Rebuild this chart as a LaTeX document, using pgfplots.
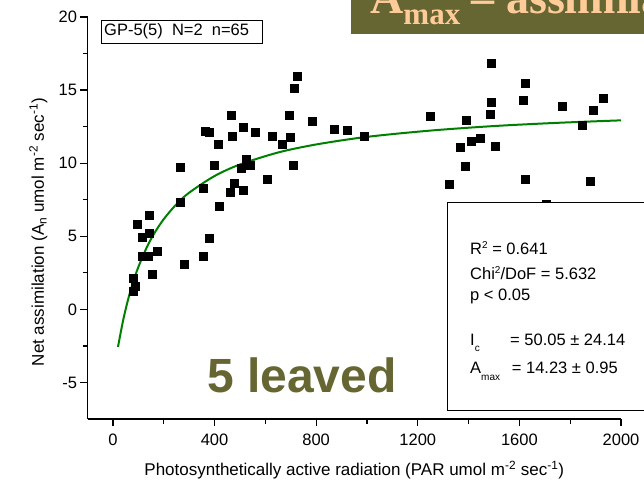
\documentclass[border=0pt]{standalone}
\usepackage{fontspec}
\setmainfont{Liberation Sans}
\newfontfamily\bannerfont{Liberation Serif}
\usepackage{pgfplots}
\pgfplotsset{compat=1.18}
\definecolor{olivebg}{RGB}{102,102,51}
\definecolor{peach}{RGB}{255,204,153}
\definecolor{fitgreen}{RGB}{0,128,0}

\begin{document}
\begin{tikzpicture}[x=1pt,y=1pt]
\begin{axis}[
  at={(87.5pt,65pt)}, anchor=south west,
  scale only axis, width=533.5pt, height=402pt,
  xmin=-100, xmax=2000, ymin=-7.5, ymax=20,
  axis lines=left,
  axis line style={-, line width=1.3pt},
  xtick={0,400,...,2000}, ytick={-5,0,...,20},
  minor x tick num=1, minor y tick num=1,
  tick align=outside,
  major tick length=7pt, minor tick length=4.5pt,
  every tick/.style={line width=1.2pt, black},
  tick label style={font=\fontsize{16.5}{19}\selectfont},
  xticklabel style={yshift=-4pt},
  /pgf/number format/assume math mode=true,
  /pgf/number format/1000 sep={},
  xlabel={Photosynthetically active radiation (PAR umol m\textsuperscript{-2} sec\textsuperscript{-1})},
  ylabel={Net assimilation (A\textsubscript{n} umol m\textsuperscript{-2} sec\textsuperscript{-1})},
  every axis x label/.style={at={(axis description cs:0.5,-0.1269)}, anchor=center, font=\fontsize{17}{19}\selectfont},
  every axis y label/.style={at={(axis description cs:-0.092,0.465)}, anchor=center, rotate=90, font=\fontsize{17}{19}\selectfont},
  clip=true,
]
\addplot[only marks, mark=square*, mark size=4pt, black] table {
x y
79.4 1.21
88.5 1.59
81.8 2.14
154.2 2.39
282.4 3.12
114.8 3.67
140.8 3.67
357.1 3.64
173.8 3.96
380.7 4.90
114.8 4.97
143.6 5.19
95.2 5.83
143.6 6.42
265.5 7.33
357.1 8.31
418.9 7.04
462.1 8.01
512.1 8.15
477.9 8.61
607.7 8.88
264.3 9.72
399.2 9.84
504.2 9.67
540.8 9.89
708.7 9.86
525.1 10.27
414.9 11.29
664.7 11.30
468.8 11.83
628.5 11.82
696.9 11.76
361.8 12.21
379.5 12.11
512.1 12.45
561.6 12.09
464.9 13.25
694.2 13.25
784.7 12.89
725.7 15.94
715.0 15.16
869.2 12.30
920.3 12.23
989.2 11.85
1248.8 13.24
1490.6 16.85
1622.4 15.44
1488.7 14.14
1614.5 14.30
1485.5 13.37
1390.4 12.91
1445.4 11.73
1411.2 11.49
1365.6 11.09
1504.4 11.15
1387.6 9.82
1322.3 8.57
1622.4 8.87
1767.9 13.87
1930.0 14.43
1889.9 13.59
1846.6 12.57
1876.9 8.80
1705.0 7.17
};
\addplot[fitgreen, line width=2pt, smooth] coordinates {
(20,-2.57) (40,-0.77) (60,0.69) (80,1.89) (100,2.89) (130,4.12) (160,5.12)
(200,6.17) (250,7.19) (300,7.98) (400,9.12) (500,9.91) (650,10.73)
(800,11.28) (1000,11.80) (1250,12.23) (1500,12.54) (1750,12.76) (2000,12.93)
};
\end{axis}
% info box
\draw[line width=0.8pt] (101.7,464) rectangle (262.7,440.7);
\node[anchor=west, inner sep=0pt, font=\fontsize{16.5}{19}\selectfont] at (104,452.3) {GP-5(5)\ \ N=2\ \ n=65};
% big text
\node[anchor=base west, inner sep=0pt, font=\fontsize{48}{50}\selectfont\bfseries, text=olivebg] at (207,91) {5 leaved};
% banner
\fill[olivebg] (351,484) rectangle (720,450.3);
\node[anchor=base west, inner sep=0pt, font=\bannerfont\bfseries\fontsize{46}{46}\selectfont, text=peach] at (370,470.7) {A\raisebox{-11.7pt}{\fontsize{31}{31}\selectfont max} – assimilation};
% stats box
\draw[line width=0.8pt, fill=white] (447.7,281.7) rectangle (720,74);
\begin{scope}[every node/.style={anchor=base west, inner sep=0pt, font=\fontsize{16.5}{19}\selectfont}]
\node at (470,229) {R\raisebox{6.5pt}{\fontsize{10}{10}\selectfont 2} = 0.641};
\node at (470,204) {Chi\raisebox{6.5pt}{\fontsize{10}{10}\selectfont 2}/DoF = 5.632};
\node at (470,183.3) {p < 0.05};
\node at (470,138.3) {I\raisebox{-6pt}{\fontsize{10}{10}\selectfont c}};
\node at (510,138.3) {= 50.05 ± 24.14};
\node at (470,110.7) {A\raisebox{-7pt}{\fontsize{10}{10}\selectfont max}};
\node at (511.7,110.7) {= 14.23 ± 0.95};
\end{scope}
\pgfresetboundingbox
\useasboundingbox (0,0) rectangle (644,484);
\end{tikzpicture}
\end{document}
